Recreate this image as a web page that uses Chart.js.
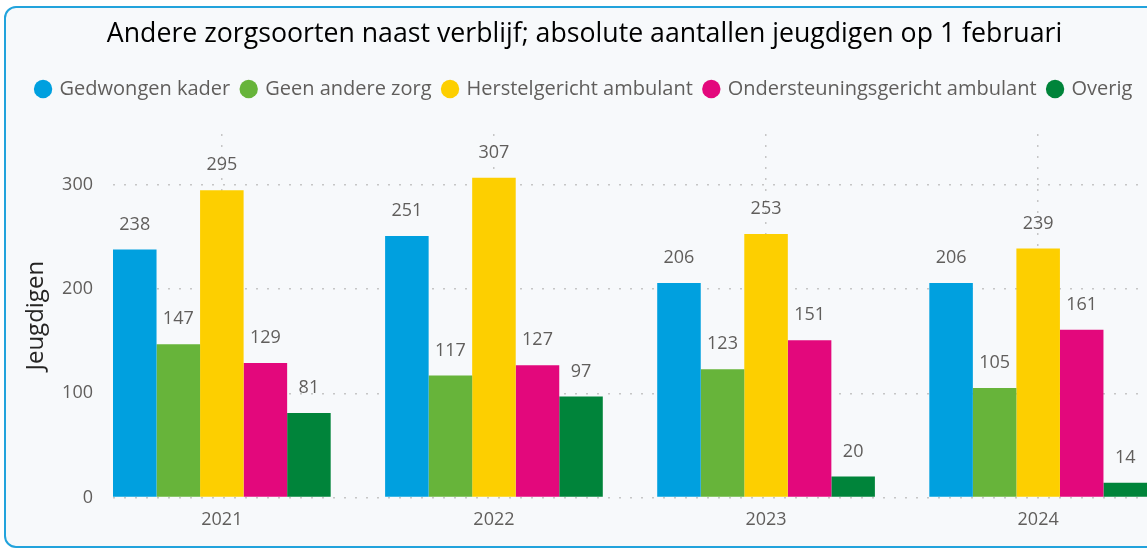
<!DOCTYPE html>
<html>
<head>
<meta charset="utf-8">
<script src="https://cdn.jsdelivr.net/npm/chart.js@4"></script>
<style>
  html, body { margin: 0; padding: 0; background: #fff; overflow: hidden; }
  #frame { position: absolute; left: 4px; top: 6px; width: 1200px; height: 538px;
           border: 2px solid #22a3dc; border-radius: 12px; background: #f7f9fb; }
  #wrap { position: absolute; left: 0; top: 0; width: 1147px; height: 550px; }
</style>
</head>
<body>
<div id="frame"></div>
<div id="wrap"><canvas id="canvas"></canvas></div>
<script>
  'use strict';

  var years = ['2021', '2022', '2023', '2024'];
  var gedwongenKader = [238, 251, 206, 206];
  var geenAndereZorg = [147, 117, 123, 105];
  var herstelgerichtAmbulant = [295, 307, 253, 239];
  var ondersteuningsgerichtAmbulant = [129, 127, 151, 161];
  var overig = [81, 97, 20, 14];
  var yTicks = [0, 100, 200, 300];

  var FONT = "'Open Sans', 'Noto Sans', sans-serif";
  Chart.defaults.font.family = FONT;

  function points(values) {
    return values.map(function (v, i) { return { x: i, y: v }; });
  }

  // value above every bar
  var valueLabels = {
    id: 'valueLabels',
    afterDatasetsDraw: function (chart) {
      var ctx = chart.ctx;
      ctx.save();
      ctx.font = '18px ' + FONT;
      ctx.fillStyle = '#605e5c';
      ctx.textAlign = 'center';
      ctx.textBaseline = 'middle';
      chart.data.datasets.forEach(function (ds, i) {
        chart.getDatasetMeta(i).data.forEach(function (bar, j) {
          ctx.fillText(ds.data[j].y, bar.x, bar.y - 25);
        });
      });
      ctx.restore();
    }
  };

  // extra room under the legend
  var legendGap = {
    id: 'legendGap',
    beforeInit: function (chart) {
      var fit = chart.legend.fit;
      chart.legend.fit = function () {
        fit.call(this);
        this.height += 25;
      };
    }
  };

  var ctx = document.getElementById('canvas');
  var chart = new Chart(ctx, {
    type: 'bar',
    data: {
      datasets: [
        { label: 'Gedwongen kader', data: points(gedwongenKader), backgroundColor: '#00a0df' },
        { label: 'Geen andere zorg', data: points(geenAndereZorg), backgroundColor: '#67b43a' },
        { label: 'Herstelgericht ambulant', data: points(herstelgerichtAmbulant), backgroundColor: '#fdcf00' },
        { label: 'Ondersteuningsgericht ambulant', data: points(ondersteuningsgerichtAmbulant), backgroundColor: '#e3087c' },
        { label: 'Overig', data: points(overig), backgroundColor: '#00843a' }
      ]
    },
    options: {
      responsive: true,
      maintainAspectRatio: false,
      animation: false,
      categoryPercentage: 0.8,
      barPercentage: 1.0,
      layout: { padding: { left: 22, right: 0, top: 0, bottom: 7 } },
      plugins: {
        title: {
          display: true,
          text: 'Andere zorgsoorten naast verblijf; absolute aantallen jeugdigen op 1 februari',
          color: '#000000',
          font: { size: 26.7, weight: 'normal' },
          padding: { top: 18, bottom: 17 }
        },
        legend: {
          display: true,
          labels: {
            usePointStyle: true,
            pointStyle: 'circle',
            boxWidth: 13,
            boxHeight: 13,
            padding: 12,
            color: '#605e5c',
            font: { size: 20 }
          }
        },
        tooltip: { enabled: false }
      },
      scales: {
        x: {
          type: 'linear',
          offset: false,
          min: -0.4,
          max: 3.4,
          afterBuildTicks: function (scale) {
            scale.ticks = years.map(function (y, i) { return { value: i }; });
          },
          ticks: {
            padding: 12,
            color: '#605e5c',
            font: { size: 18 },
            callback: function (value) { return years[value]; }
          },
          grid: { offset: false, color: '#c6c6c6', lineWidth: 1.5, drawTicks: false },
          border: { display: false, dash: [2, 9] }
        },
        y: {
          min: 0,
          max: 349,
          afterBuildTicks: function (scale) {
            scale.ticks = yTicks.map(function (v) { return { value: v }; });
          },
          afterFit: function (scale) { scale.width = 91; },
          title: {
            display: true,
            text: 'Jeugdigen',
            color: '#252423',
            font: { size: 24 },
            padding: 0
          },
          ticks: { padding: 20, color: '#605e5c', font: { size: 18 } },
          grid: { color: '#c6c6c6', lineWidth: 1.5, drawTicks: false },
          border: { display: false, dash: [2, 9] }
        }
      }
    },
    plugins: [valueLabels, legendGap]
  });
</script>
</body>
</html>
